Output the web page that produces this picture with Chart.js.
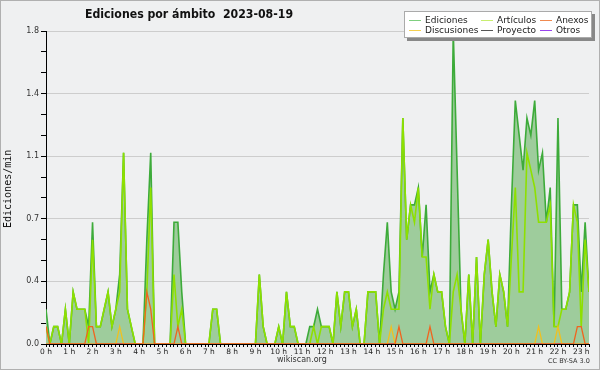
<!DOCTYPE html>
<html><head><meta charset="utf-8">
<script src="https://cdn.jsdelivr.net/npm/chart.js@4"></script>
<style>
html,body{margin:0;padding:0;background:#eff0f1;}
#wrap{position:relative;width:600px;height:370px;overflow:hidden;background:#eff0f1;}
canvas{position:absolute;left:0;top:0;}
.t{position:absolute;white-space:nowrap;color:#222;line-height:1;}
#title{left:85px;top:8px;font-family:"DejaVu Sans Condensed","DejaVu Sans";font-weight:bold;font-size:12.2px;color:#111;}
#ylab{left:3px;top:190px;font-family:"DejaVu Sans Mono";font-size:10px;transform-origin:0 0;transform:translate(0,38px) rotate(-90deg);color:#111;}
#site{left:277px;top:356px;font-family:"DejaVu Sans";font-size:8px;color:#333;}
#lic{left:548px;top:358px;font-family:"DejaVu Sans";font-size:6.5px;color:#333;}
#legend{position:absolute;left:404px;top:11px;width:188px;height:27px;background:#fff;border:1px solid #aaa;box-sizing:border-box;box-shadow:3px 3px 0 #888;}
.li{position:absolute;font-family:"DejaVu Sans";font-size:9px;color:#222;line-height:1;white-space:nowrap;}
.ls{position:absolute;height:1px;width:12px;}
#frame{position:absolute;left:0;top:0;width:600px;height:370px;box-sizing:border-box;border:1px solid #b0b0b0;pointer-events:none;}
</style></head><body>
<div id="wrap">
<canvas id="c" width="600" height="370"></canvas>
<div id="title" class="t">Ediciones por ámbito&nbsp;&nbsp;2023-08-19</div>
<div id="ylab" class="t">Ediciones/min</div>
<div id="legend"></div>
<div id="site" class="t">wikiscan.org</div>
<div id="lic" class="t">CC BY-SA 3.0</div>
<div id="frame"></div>
</div>
<script>
// Tick labels (one per hour, every 6 ten-minute steps)
const hourLabels = ['0 h','1 h','2 h','3 h','4 h','5 h','6 h','7 h','8 h','9 h','10 h','11 h','12 h','13 h','14 h','15 h','16 h','17 h','18 h','19 h','20 h','21 h','22 h','23 h'];
const yTickStep = 0.12;
const yMax = 1.8;

// Series names
const seriesNames = ['Ediciones','Artículos','Anexos','Discusiones','Proyecto','Otros'];

// Edits per minute, 10-minute bins from 00:00
const ediciones = [
 0.2,0,0.1,0.1,0,0.2,0,0.3,0.2,0.2,0.2,0.1,
 0.7,0.1,0.1,0.2,0.3,0.1,0.2,0.4,1.1,0.2,0.1,0,
 0,0,0.6,1.1,0,0,0,0,0,0.7,0.7,0.3,
 0,0,0,0,0,0,0,0.2,0.2,0,0,0,
 0,0,0,0,0,0,0,0.4,0.1,0,0,0,
 0.1,0,0.3,0.1,0.1,0,0,0,0.1,0.1,0.2,0.1,
 0.1,0.1,0,0.3,0.1,0.3,0.3,0.1,0.2,0,0,0.3,
 0.3,0.3,0,0.4,0.7,0.3,0.2,0.3,1.3,0.6,0.8,0.8,
 0.9,0.5,0.8,0.3,0.4,0.3,0.3,0.1,0,1.8,1.0,0.2,
 0,0.4,0,0.5,0,0.4,0.6,0.3,0.1,0.4,0.3,0.1,
 0.8,1.4,1.2,1.0,1.3,1.2,1.4,1.0,1.1,0.7,0.9,0.1,
 1.3,0.2,0.2,0.3,0.8,0.8,0.3,0.7,0.3
];
const articulos = [
 0.1,0,0.1,0.1,0,0.2,0,0.3,0.2,0.2,0.2,0,
 0.6,0.1,0.1,0.2,0.3,0.1,0.2,0.3,1.1,0.2,0.1,0,
 0,0,0.3,0.9,0,0,0,0,0,0.4,0.1,0.2,
 0,0,0,0,0,0,0,0.2,0.2,0,0,0,
 0,0,0,0,0,0,0,0.4,0.1,0,0,0,
 0.1,0,0.3,0.1,0.1,0,0,0,0,0.1,0,0.1,
 0.1,0.1,0,0.3,0.1,0.3,0.3,0.1,0.2,0,0,0.3,
 0.3,0.3,0,0.2,0.3,0.2,0.2,0.2,1.3,0.6,0.8,0.7,
 0.9,0.5,0.5,0.2,0.4,0.3,0.3,0.1,0,0.3,0.4,0.2,
 0,0.4,0,0.5,0,0.4,0.6,0.3,0.1,0.4,0.3,0.1,
 0.5,0.9,0.3,0.3,1.1,1.0,0.9,0.7,0.7,0.7,0.8,0.1,
 0.1,0.2,0.2,0.3,0.8,0.7,0.1,0.6,0.3
];
const anexos = [
 0.1,0,0,0,0,0,0,0,0,0,0,0.1,
 0.1,0,0,0,0,0,0,0,0,0,0,0,
 0,0,0.3,0.2,0,0,0,0,0,0,0.1,0,
 0,0,0,0,0,0,0,0,0,0,0,0,
 0,0,0,0,0,0,0,0,0,0,0,0,
 0,0,0,0,0,0,0,0,0,0,0,0,
 0,0,0,0,0,0,0,0,0,0,0,0,
 0,0,0,0,0,0,0,0.1,0,0,0,0,
 0,0,0,0.1,0,0,0,0,0,0,0,0,
 0,0,0,0,0,0,0,0,0,0,0,0,
 0,0,0,0,0,0,0,0,0,0,0,0,
 0,0,0,0,0,0.1,0.1,0,0
];
const discusiones = [
 0,0,0,0,0,0,0,0,0,0,0,0,
 0,0,0,0,0,0,0,0.1,0,0,0,0,
 0,0,0,0,0,0,0,0,0,0,0,0,
 0,0,0,0,0,0,0,0,0,0,0,0,
 0,0,0,0,0,0,0,0,0,0,0,0,
 0,0,0,0,0,0,0,0,0,0,0,0,
 0,0,0,0,0,0,0,0,0,0,0,0,
 0,0,0,0,0,0.1,0,0,0,0,0,0,
 0,0,0,0,0,0,0,0,0,0,0,0,
 0,0,0,0,0,0,0,0,0,0,0,0,
 0,0,0,0,0,0,0,0.1,0,0,0,0,
 0.1,0,0,0,0,0,0,0,0
];
const proyecto = [
 0,0,0,0,0,0,0,0,0,0,0,0, 0,0,0,0,0,0,0,0,0,0,0,0,
 0,0,0,0,0,0,0,0,0,0,0,0, 0,0,0,0,0,0,0,0,0,0,0,0,
 0,0,0,0,0,0,0,0,0,0,0,0, 0,0,0,0,0,0,0,0,0,0,0,0,
 0,0,0,0,0,0,0,0,0,0,0,0, 0,0,0,0,0,0,0,0,0,0,0,0,
 0,0,0,0,0,0,0,0,0,0,0,0, 0,0,0,0,0,0,0,0,0,0,0,0,
 0,0,0,0,0,0,0,0,0,0,0,0, 0,0,0,0,0,0,0,0,0
];
const otros = [
 0,0,0,0,0,0,0,0,0,0,0,0, 0,0,0,0,0,0,0,0,0,0,0,0,
 0,0,0,0,0,0,0,0,0,0,0,0, 0,0,0,0,0,0,0,0,0,0,0,0,
 0,0,0,0,0,0,0,0,0,0,0,0, 0,0,0,0,0,0,0,0,0,0,0,0,
 0,0,0,0,0,0,0,0,0,0,0,0, 0,0,0,0,0,0,0,0,0,0,0,0,
 0,0,0,0,0,0,0,0,0,0,0,0, 0,0,0,0,0,0,0,0,0,0,0,0,
 0,0,0,0,0,0,0,0,0,0,0,0, 0,0,0,0,0,0,0,0,0
];

const series = [ediciones, articulos, anexos, discusiones, proyecto, otros];
const lineColors = ['#3dab3a','#8ee000','#f0641e','#f0c020','#555555','#9944ee'];
const legendColors = ['#7fcf7f','#c8ee70','#f08a50','#f5d050','#555555','#9944ee'];
const drawOrder = [6,5,1,2,4,3];

const toPts = arr => arr.map((v,i)=>({x:i,y:v}));

const datasets = series.map((arr,k)=>({
  label: seriesNames[k],
  data: toPts(arr),
  borderColor: lineColors[k],
  borderWidth: k===0 ? 1.6 : (k===1 ? 1.6 : 1.3),
  backgroundColor: k===0 ? 'rgb(158,204,156)' : 'transparent',
  fill: k===0 ? 'origin' : false,
  pointRadius: 0,
  tension: 0,
  order: drawOrder[k]
}));

new Chart(document.getElementById('c'), {
  type: 'line',
  data: { datasets },
  options: {
    responsive: false,
    animation: false,
    events: [],
    layout: { padding: { left: 0, right: 11, top: 31, bottom: 0 } },
    plugins: { legend: { display: false }, title: { display: false }, tooltip: { enabled: false } },
    scales: {
      x: {
        type: 'linear', min: 0, max: ediciones.length - 1, z: 1,
        afterFit(s){ s.height = 26; },
        ticks: {
          stepSize: 1, autoSkip: false, maxRotation: 0, minRotation: 0, padding: 1,
          font: { family: 'DejaVu Sans', size: 7.5 }, color: '#222',
          callback: v => (v % 6 === 0 && hourLabels[v/6]) ? hourLabels[v/6] : ''
        },
        grid: { drawOnChartArea: false, drawTicks: true, tickLength: 3, tickColor: '#000', tickWidth: 1 },
        border: { display: true, color: '#000', width: 1 }
      },
      y: {
        min: 0, max: yMax,
        afterFit(s){ s.width = 46; },
        ticks: {
          stepSize: yTickStep, autoSkip: false, padding: 2,
          font: { family: 'DejaVu Sans', size: 8 }, color: '#333',
          callback: (v, i) => i % 3 === 0 ? Number(v).toFixed(1) : ''
        },
        grid: {
          color: c => (c.index % 3 === 0 && c.index > 0) ? '#cdcdcd' : 'rgba(0,0,0,0)',
          tickColor: '#000', tickLength: 5, drawTicks: true, lineWidth: 1
        },
        border: { display: true, color: '#000', width: 1 }
      }
    }
  }
});

// HTML legend built from series names/colors: 3 columns x 2 rows
const legend = document.getElementById('legend');
const colX = [4, 76, 135];
const rowY = [4, 14];
seriesNames.forEach((name,k)=>{
  const col = k % 3, row = Math.floor(k/3);
  const s = document.createElement('div');
  s.className = 'ls';
  s.style.left = colX[col] + 'px';
  s.style.top = (rowY[row] + 4) + 'px';
  s.style.background = legendColors[k];
  legend.appendChild(s);
  const t = document.createElement('div');
  t.className = 'li';
  t.style.left = (colX[col] + 16) + 'px';
  t.style.top = rowY[row] + 'px';
  t.textContent = name;
  legend.appendChild(t);
});
</script>
</body></html>
